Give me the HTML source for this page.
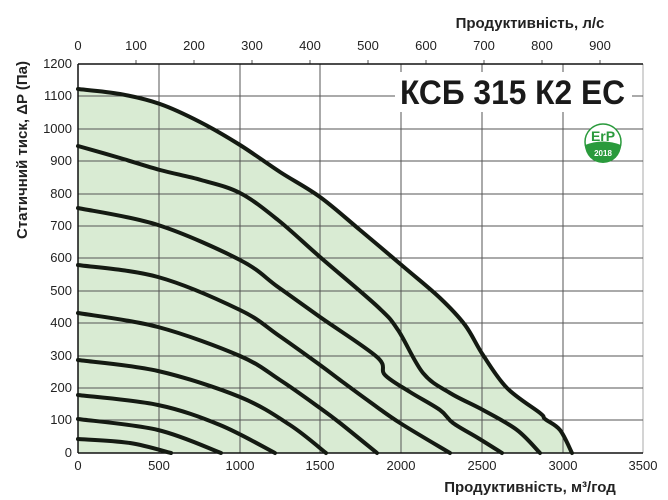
<!DOCTYPE html>
<html><head><meta charset="utf-8"><style>
body{margin:0;background:#fff}
svg{display:block;font-family:"Liberation Sans",sans-serif}
</style></head><body>
<svg id="s" width="668" height="500" viewBox="0 0 668 500">
<path id="fill" fill="#d9ebd3" d=""/>
<g stroke="#555" stroke-width="1">
<line x1="159" y1="64" x2="159" y2="453"/><line x1="240" y1="64" x2="240" y2="453"/><line x1="320" y1="64" x2="320" y2="453"/><line x1="401" y1="64" x2="401" y2="453"/><line x1="482" y1="64" x2="482" y2="453"/><line x1="563" y1="64" x2="563" y2="453"/><line x1="643" y1="64" x2="643" y2="453" stroke="#aaa"/>
<line x1="78" y1="96" x2="643" y2="96"/><line x1="78" y1="129" x2="643" y2="129"/><line x1="78" y1="161" x2="643" y2="161"/><line x1="78" y1="194" x2="643" y2="194"/><line x1="78" y1="226" x2="643" y2="226"/><line x1="78" y1="258" x2="643" y2="258"/><line x1="78" y1="291" x2="643" y2="291"/><line x1="78" y1="323" x2="643" y2="323"/><line x1="78" y1="356" x2="643" y2="356"/><line x1="78" y1="388" x2="643" y2="388"/><line x1="78" y1="420" x2="643" y2="420"/>
<line x1="136" y1="60" x2="136" y2="64"/><line x1="194" y1="60" x2="194" y2="64"/><line x1="252" y1="60" x2="252" y2="64"/><line x1="310" y1="60" x2="310" y2="64"/><line x1="368" y1="60" x2="368" y2="64"/><line x1="426" y1="60" x2="426" y2="64"/><line x1="484" y1="60" x2="484" y2="64"/><line x1="542" y1="60" x2="542" y2="64"/><line x1="600" y1="60" x2="600" y2="64"/>
</g>
<line x1="78" y1="64" x2="643" y2="64" stroke="#111" stroke-width="1.5"/>
<line x1="78" y1="64" x2="78" y2="453" stroke="#111" stroke-width="1.5"/>
<line x1="78" y1="453" x2="643" y2="453" stroke="#111" stroke-width="1.5"/>
<rect x="395" y="72" width="237" height="40" fill="#fff"/>
<text x="400" y="104" font-size="34" font-weight="bold" fill="#1a1a1a" textLength="225" lengthAdjust="spacingAndGlyphs">КСБ 315 К2 ЕС</text>
<circle cx="603" cy="142" r="18" fill="#fff" stroke="#2a9a3c" stroke-width="1.5"/>
<path d="M585,145 Q603,138 621,145 A18,18 0 0 1 585,145 Z" fill="#2a9a3c"/>
<text x="603" y="141" text-anchor="middle" font-size="14" font-weight="bold" fill="#2a9a3c">ErP</text>
<text x="603" y="156" text-anchor="middle" font-size="8" font-weight="bold" fill="#fff">2018</text>
<g id="curves" fill="none" stroke="#141a12" stroke-width="4" stroke-linejoin="round" stroke-linecap="round"></g>
<g font-size="13" fill="#222" text-anchor="end">
<text x="72" y="68">1200</text><text x="72" y="100">1100</text><text x="72" y="133">1000</text><text x="72" y="165">900</text><text x="72" y="198">800</text><text x="72" y="230">700</text><text x="72" y="262">600</text><text x="72" y="295">500</text><text x="72" y="327">400</text><text x="72" y="360">300</text><text x="72" y="392">200</text><text x="72" y="424">100</text><text x="72" y="457">0</text>
</g>
<g font-size="13" fill="#222" text-anchor="middle">
<text x="78" y="470">0</text><text x="159" y="470">500</text><text x="240" y="470">1000</text><text x="320" y="470">1500</text><text x="401" y="470">2000</text><text x="482" y="470">2500</text><text x="563" y="470">3000</text><text x="643" y="470">3500</text>
<text x="78" y="50">0</text><text x="136" y="50">100</text><text x="194" y="50">200</text><text x="252" y="50">300</text><text x="310" y="50">400</text><text x="368" y="50">500</text><text x="426" y="50">600</text><text x="484" y="50">700</text><text x="542" y="50">800</text><text x="600" y="50">900</text>
</g>
<text x="530" y="28" text-anchor="middle" font-size="15" font-weight="bold" fill="#222">Продуктивність, л/с</text>
<text x="530" y="492" text-anchor="middle" font-size="15" font-weight="bold" fill="#222">Продуктивність, м³/год</text>
<text transform="translate(27,150) rotate(-90)" text-anchor="middle" font-size="15" font-weight="bold" fill="#222">Статичний тиск, ΔP (Па)</text>
</svg>
<script>
var C=[
[[78,89],[120,94],[160,104],[200,122],[240,145],[280,172],[320,197],[360,230],[405,268],[440,298],[465,325],[483,355],[507,388],[540,413],[545,419],[560,430],[572,453]],
[[78,146],[120,158],[160,170],[201,180],[240,193],[278,220],[320,257],[378,307],[398,330],[423,373],[450,393],[483,410],[517,430],[540,453]],
[[78,208],[158,225],[240,260],[278,287],[320,317],[377,357],[385,375],[410,392],[440,410],[453,423],[478,438],[502,453]],
[[78,265],[158,277],[240,310],[278,335],[320,365],[340,380],[370,402],[400,423],[450,453]],
[[78,313],[158,327],[240,356],[280,380],[320,408],[340,423],[377,453]],
[[78,360],[158,371],[240,397],[290,425],[326,453]],
[[78,395],[158,405],[220,425],[275,453]],
[[78,419],[158,430],[221,453]],
[[78,439],[130,443],[171,453]]];
function cr(p){var d="M"+p[0][0]+","+p[0][1];for(var i=0;i<p.length-1;i++){var a=p[i-1]||p[i],b=p[i],c=p[i+1],e=p[i+2]||c;d+=" C"+(b[0]+(c[0]-a[0])/6)+","+(b[1]+(c[1]-a[1])/6)+" "+(c[0]-(e[0]-b[0])/6)+","+(c[1]-(e[1]-b[1])/6)+" "+c[0]+","+c[1];}return d;}
var g=document.getElementById("curves"),ns="http://www.w3.org/2000/svg";
C.forEach(function(p){var e=document.createElementNS(ns,"path");e.setAttribute("d",cr(p));g.appendChild(e);});
document.getElementById("fill").setAttribute("d",cr(C[0])+" L78,453 Z");
</script>
</body></html>
